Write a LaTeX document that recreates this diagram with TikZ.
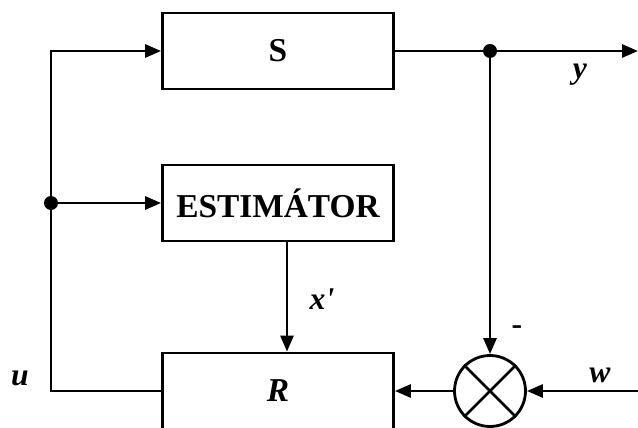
\documentclass[tikz,border=0pt]{standalone}
\usepackage{fontspec}
\setmainfont{Liberation Serif}
\usetikzlibrary{arrows.meta, positioning}

\begin{document}
\begin{tikzpicture}[
  x=0.02cm, y=-0.02cm,
  block/.style={draw, line width=1.6pt, minimum width=4.62cm, minimum height=1.52cm, font=\fontsize{19}{22}\selectfont\bfseries},
  summ/.style={draw, circle, line width=1.6pt, minimum size=1.42cm, inner sep=0pt},
  lbl/.style={font=\fontsize{18}{21}\selectfont\bfseries\itshape},
  arr/.style={-{Triangle[length=0.32cm, width=0.26cm]}, line width=1.6pt},
  wire/.style={line width=1.6pt},
  dot/.style={circle, fill, inner sep=0pt, minimum size=0.28cm}
]
  \useasboundingbox (0,0) rectangle (638,428);

  % blocks
  \node[block] (sys) at (278,51) {S};
  \node[block] (est) at (278,203) {ESTIM\'ATOR};
  \node[block] (reg) at (278,391) {\itshape R};
  \node[summ] (sum) at (490,391) {};
  \draw[wire] (sum.north west) -- (sum.south east)
              (sum.north east) -- (sum.south west);

  % branch points and free ends
  \coordinate (uleft) at (51,51);
  \node[dot] (split) at (51,203) {};
  \node[dot] (ydot) at (490,51) {};
  \coordinate (yout) at (638,51);
  \coordinate (win) at (638,391);

  % connectors
  \draw[arr] (reg.west) -| (uleft) -- (sys.west);
  \draw[arr] (split) -- (est.west);
  \draw[wire] (sys.east) -- (ydot);
  \draw[arr] (ydot) -- (yout);
  \draw[arr] (ydot) -- (sum.north);
  \draw[arr] (win) -- (sum.east);
  \draw[arr] (sum.west) -- (reg.east);
  \draw[arr] ([xshift=0.18cm]est.south) -- ([xshift=0.18cm]reg.north);

  % labels
  \node[lbl] (ulbl) at (20,378) {u};
  \node[lbl] (ylbl) at (580,75) {y};
  \node[lbl] (xlbl) at (322,299) {x\textquotesingle};
  \node[lbl] (wlbl) at (600,375) {w};
  \node[lbl, font=\fontsize{18}{21}\selectfont\bfseries] (minus) at (517,330) {-};
\end{tikzpicture}
\end{document}
